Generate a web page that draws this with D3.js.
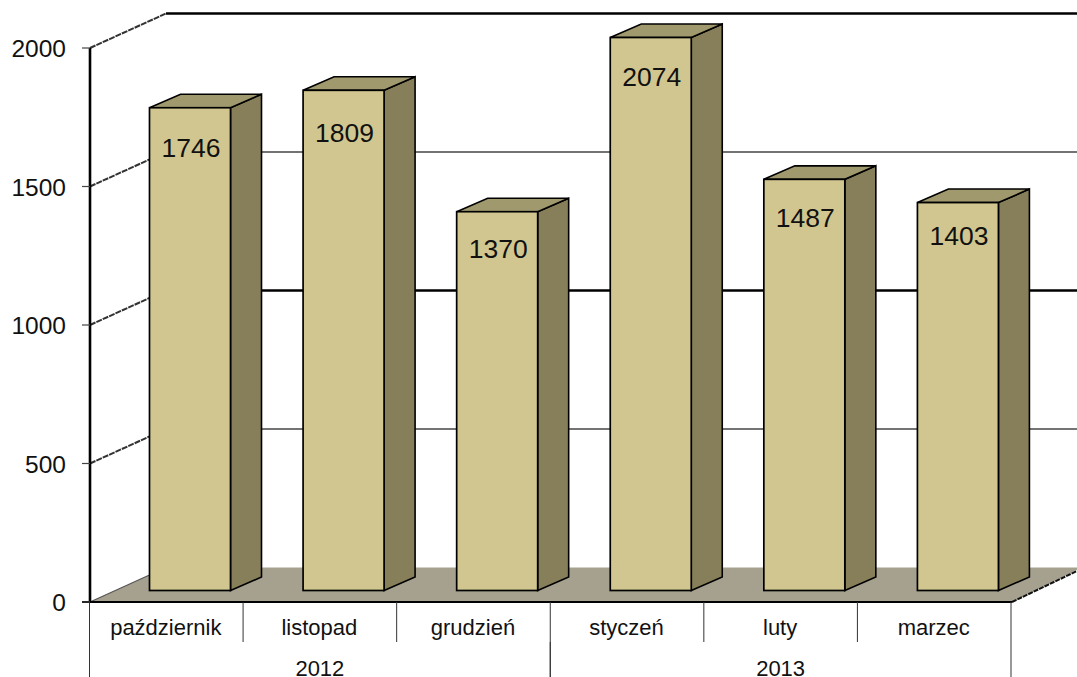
<!DOCTYPE html>
<html><head><meta charset="utf-8">
<script src="https://cdn.jsdelivr.net/npm/d3@7"></script>
<style>html,body{margin:0;padding:0;background:#fff}svg{display:block}text{font-family:"Liberation Sans",Arial,sans-serif;fill:#111}</style>
</head><body><svg id="c" width="1077" height="677"></svg>
<script>
const months=["październik","listopad","grudzień","styczeń","luty","marzec"];
const values=[1746,1809,1370,2074,1487,1403];
const years=["2012","2013"];
const yearSpans=[3,3];
const yTicks=[0,500,1000,1500,2000];
const labelDrop=[49,52,46,48,48,42];

const W=1077,H=677;
const svg=d3.select("#c");
const x=d3.scaleBand().domain(months).range([89.5,1011]);
const y=d3.scaleLinear().domain([0,2000]).range([602,48]).clamp(true);
const hs=d3.scaleLinear().domain([0,2000]).range([0,553]).clamp(true);
const dx=76,dy=-34.5;
const bx=60,bBase=-11.5;
const bw=81,bdx=31,bdy=-13.5;

yTicks.forEach(t=>{
  if(t===0)return;
  const yy=y(t)+dy, strong=t===2000||t===1000;
  svg.append("line").attr("x1",166).attr("x2",W).attr("y1",yy).attr("y2",yy)
    .attr("stroke",strong?"#000":"#444").attr("stroke-width",strong?2.4:1.3);
});
const fl=x.range()[1];
svg.append("path").attr("fill","#a6a18f")
  .attr("d",d3.line()([[90,602],[90+dx,602+dy],[W,602+dy],[W,570],[fl+1,602]]));
svg.append("line").attr("x1",fl+1).attr("y1",602).attr("x2",W).attr("y2",571).attr("stroke","#111").attr("stroke-width",2).attr("stroke-dasharray","5 1");
yTicks.forEach(t=>{
  if(t===0)return;
  svg.append("line").attr("x1",90).attr("y1",y(t)).attr("x2",90+dx).attr("y2",y(t)+dy)
    .attr("stroke","#333").attr("stroke-width",2).attr("stroke-dasharray","6 1");
});
svg.append("line").attr("x1",90).attr("y1",602).attr("x2",90+dx).attr("y2",602+dy).attr("stroke","#555").attr("stroke-width",1.2);

const bars=svg.selectAll("g.bar").data(months.map((m,i)=>({m,v:values[i],drop:labelDrop[i]}))).join("g").attr("class","bar");
const base=602+bBase;
bars.each(function(d){
  const g=d3.select(this);
  const x0=x(d.m)+bx, top=base-hs(d.v);
  const line=d3.line();
  g.append("path").attr("fill","#867f59").attr("stroke","#000").attr("stroke-width",1.6)
    .attr("d",line([[x0+bw,top],[x0+bw+bdx,top+bdy],[x0+bw+bdx,base+bdy],[x0+bw,base]])+"Z");
  g.append("path").attr("fill","#a0996e").attr("stroke","#000").attr("stroke-width",1.6)
    .attr("d",line([[x0,top],[x0+bdx,top+bdy],[x0+bw+bdx,top+bdy],[x0+bw,top]])+"Z");
  g.append("rect").attr("x",x0).attr("y",top).attr("width",bw).attr("height",hs(d.v))
    .attr("fill","#d1c68f").attr("stroke","#000").attr("stroke-width",1.7);
  g.append("text").attr("x",x0+bw/2+1).attr("y",top+d.drop).attr("text-anchor","middle")
    .attr("font-size",26.5).text(d.v);
});

svg.append("line").attr("x1",90).attr("x2",90).attr("y1",48).attr("y2",602).attr("stroke","#000").attr("stroke-width",2.6);
svg.append("line").attr("x1",82).attr("x2",fl+1).attr("y1",602).attr("y2",602).attr("stroke","#000").attr("stroke-width",2);
yTicks.forEach(t=>{
  svg.append("line").attr("x1",82).attr("x2",90).attr("y1",y(t)).attr("y2",y(t)).attr("stroke","#444").attr("stroke-width",1.2);
  svg.append("text").attr("x",66).attr("y",y(t)+9).attr("text-anchor","end").attr("font-size",24.5).text(t);
});

const edges=months.map(m=>x(m)).concat(fl);
edges.forEach(e=>{
  svg.append("line").attr("x1",e).attr("x2",e).attr("y1",602).attr("y2",642).attr("stroke","#333").attr("stroke-width",1);
});
months.forEach(m=>{
  svg.append("text").attr("x",x(m)+x.bandwidth()/2-0.5).attr("y",635).attr("text-anchor","middle").attr("font-size",22).text(m);
});
let idx=0;
years.forEach((yr,i)=>{
  const a=edges[idx],b=edges[idx+yearSpans[i]];
  svg.append("line").attr("x1",a).attr("x2",a).attr("y1",642).attr("y2",H).attr("stroke","#333").attr("stroke-width",1);
  svg.append("line").attr("x1",b).attr("x2",b).attr("y1",642).attr("y2",H).attr("stroke","#333").attr("stroke-width",1);
  svg.append("text").attr("x",(a+b)/2).attr("y",676).attr("text-anchor","middle").attr("font-size",22).text(yr);
  idx+=yearSpans[i];
});
</script></body></html>
